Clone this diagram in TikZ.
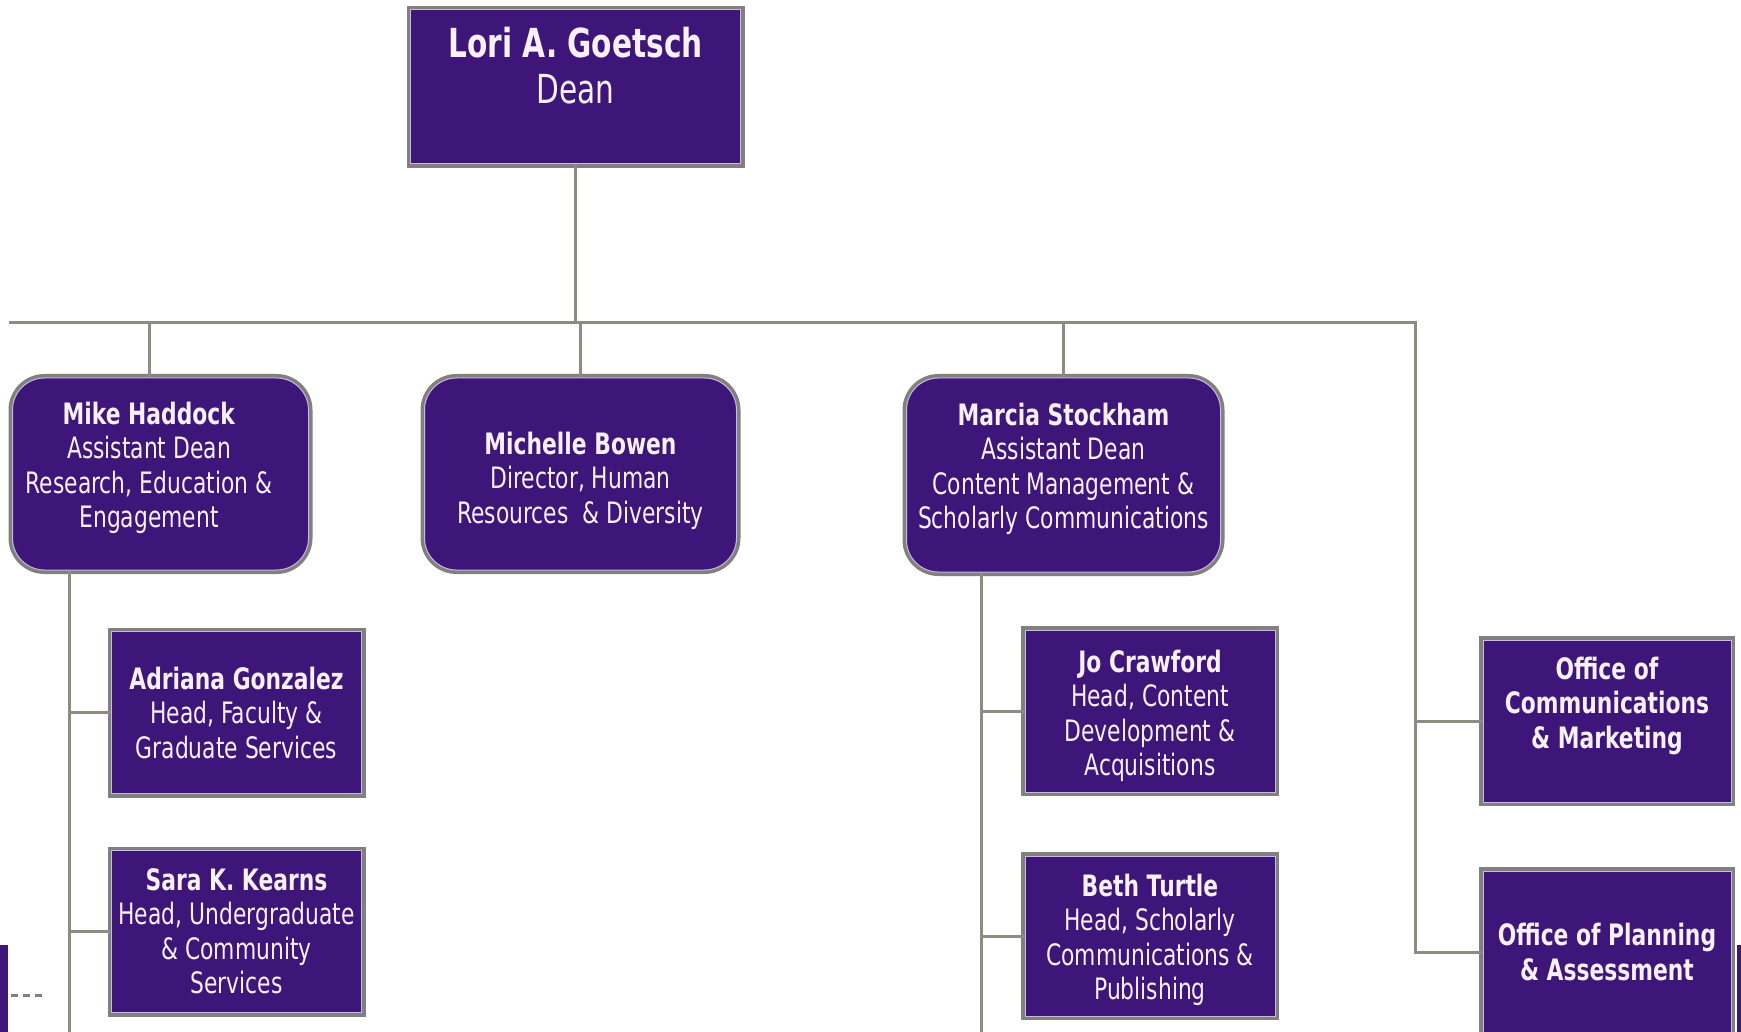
\documentclass[tikz,border=0pt]{standalone}
\usepackage{fontspec}
\setmainfont{DejaVu Sans}[FakeStretch=0.74]

\definecolor{kpurple}{RGB}{62,21,120}
\definecolor{ktext}{RGB}{248,240,250}
\definecolor{kframe}{RGB}{128,128,124}
\definecolor{klav}{RGB}{200,185,228}
\definecolor{kwire}{RGB}{140,140,128}

\tikzset{
	boxtext/.style={text=ktext, align=center, inner sep=2pt, font=\fontsize{14.75}{17.25}\selectfont},
	orgbox/.style={boxtext, fill=kpurple, draw=klav, line width=0.5pt,
		preaction={draw=kframe, line width=4pt}},
	roundbox/.style={orgbox, rounded corners=16pt},
	wire/.style={draw=kwire, line width=1.5pt},
}

\begin{document}
\begin{tikzpicture}[x=0.5pt, y=-0.5pt]
	\useasboundingbox (0,0) rectangle (1741,1032);
	\fill[white] (0,0) rectangle (1741,1032);
	
	\node[orgbox, minimum width=165pt, minimum height=77pt, text depth=21.5pt,
		font=\fontsize{20}{23.3}\selectfont] (dean) at (575.5,87) {\textbf{Lori A. Goetsch}\\Dean};
	
	\node[roundbox, minimum width=148pt, minimum height=96pt] (haddockbox) at (160.5,474) {};
	\node[boxtext, text depth=9pt] (haddock) at (149,474)
		{\textbf{Mike Haddock}\\Assistant Dean\\Research, Education \&\\Engagement};
	\node[roundbox, minimum width=156pt, minimum height=96pt, text height=52.5pt] (bowen) at (580.5,474)
		{\textbf{Michelle Bowen}\\Director, Human\\Resources\ \ \& Diversity};
	\node[roundbox, minimum width=157pt, minimum height=97pt, text depth=9pt] (stockham) at (1063.5,475)
		{\textbf{Marcia Stockham}\\Assistant Dean\\Content Management \&\\Scholarly Communications};
	
	\node[orgbox, minimum width=125pt, minimum height=81pt] (gonzalez) at (236.5,712.5)
		{\textbf{Adriana Gonzalez}\\Head, Faculty \&\\Graduate Services};
	\node[orgbox, minimum width=125pt, minimum height=81pt] (kearns) at (236.5,931.5)
		{\textbf{Sara K. Kearns}\\Head, Undergraduate\\\& Community\\Services};
	\node[orgbox, minimum width=125pt, minimum height=81pt, text height=67.8pt] (crawford) at (1150,711)
		{\textbf{Jo Crawford}\\Head, Content\\Development \&\\Acquisitions};
	\node[orgbox, minimum width=125pt, minimum height=80pt, text height=66.6pt] (turtle) at (1150,936)
		{\textbf{Beth Turtle}\\Head, Scholarly\\Communications \&\\Publishing};
	
	\node[orgbox, minimum width=124pt, minimum height=81pt, text depth=18.5pt] (comm) at (1607,721)
		{\textbf{Office of}\\\textbf{Communications}\\\textbf{\& Marketing}};
	\node[orgbox, minimum width=124pt, minimum height=81pt] (plan) at (1607,952)
		{\textbf{Office of Planning}\\\textbf{\& Assessment}};
	
	% bus and drops
	\coordinate (busL) at (9,323); \coordinate (busR) at (1415,323);
	\coordinate (hadEnd) at (69,1040); \coordinate (stoEnd) at (981,1040);
	\draw[wire] (dean.south) -- (dean.south |- busL);
	\draw[wire] (busL) -- (busR) |- (plan.west);
	\draw[wire] (busR |- comm.west) -- (comm.west);
	\draw[wire] (haddock |- haddockbox.north) -- (haddock |- busL);
	\draw[wire] (bowen.north) -- (bowen.north |- busL);
	\draw[wire] (stockham.north) -- (stockham.north |- busL);
	
	\draw[wire] (hadEnd |- haddockbox.south) -- (hadEnd);
	\draw[wire] (gonzalez.west) -- (gonzalez.west -| hadEnd);
	\draw[wire] (kearns.west) -- (kearns.west -| hadEnd);
	\draw[wire] (stoEnd |- stockham.south) -- (stoEnd);
	\draw[wire] (crawford.west) -- (crawford.west -| stoEnd);
	\draw[wire] (turtle.west) -- (turtle.west -| stoEnd);
	
	% cut-off bits at the edges
	\fill[kpurple] (0,945) rectangle (8,1032);
	\fill[kpurple] (1737,945) rectangle (1741,1032);
	\draw[kframe, line width=1.5pt, dash pattern=on 3.5pt off 2.5pt] (11,995) -- (46,995);
\end{tikzpicture}
\end{document}
